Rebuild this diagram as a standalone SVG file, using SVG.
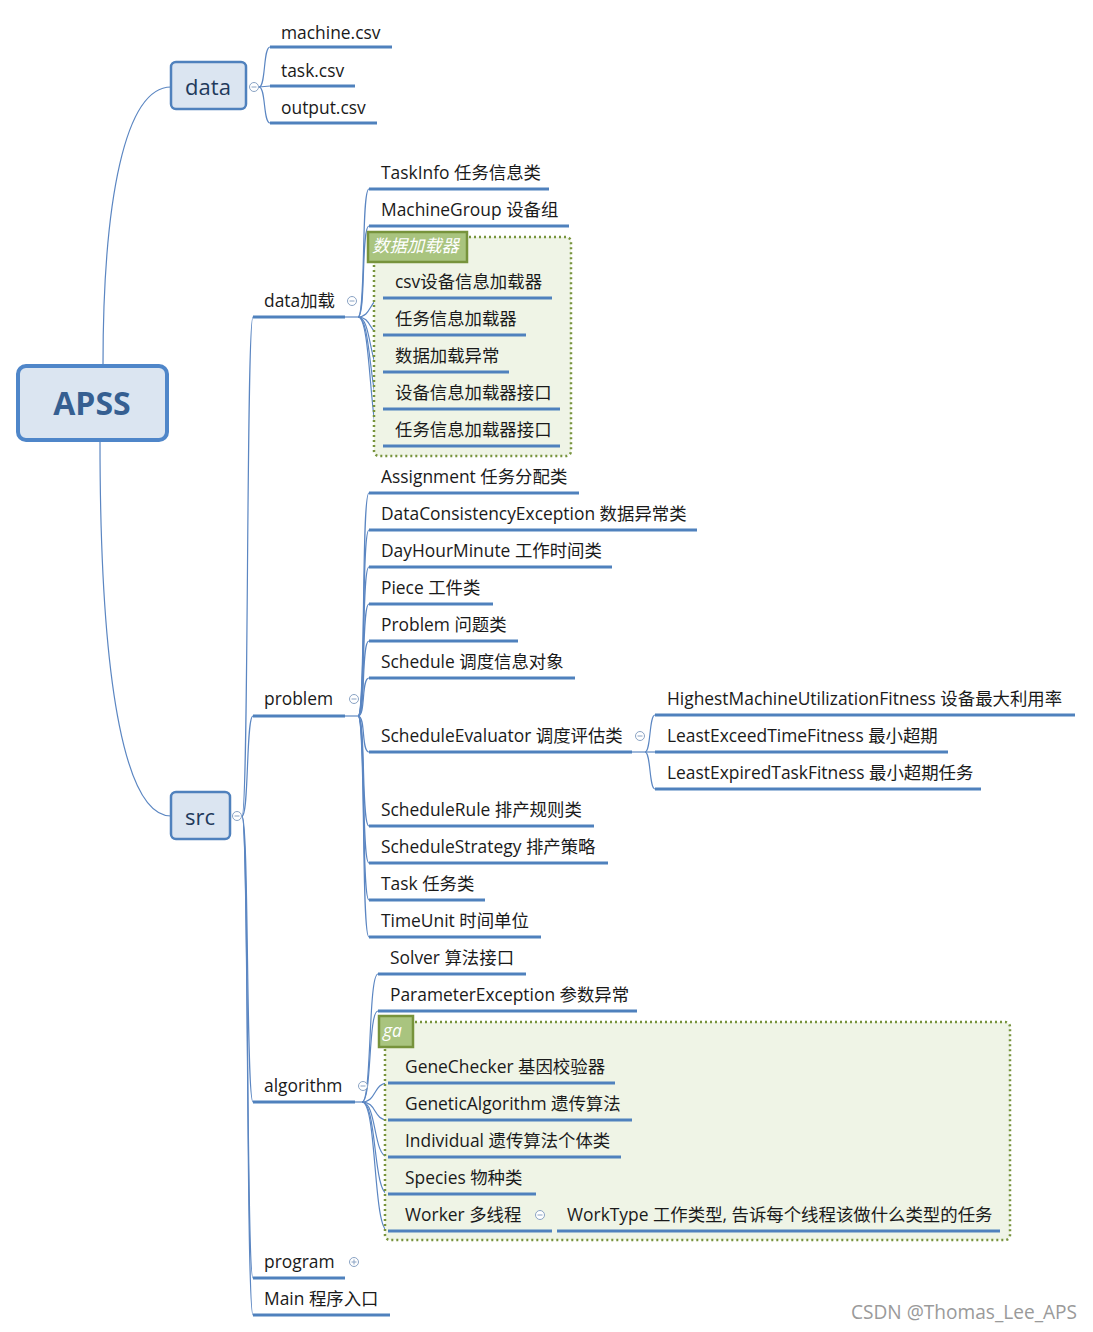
<svg xmlns="http://www.w3.org/2000/svg" width="1093" height="1332" viewBox="0 0 1093 1332">
<style>
text{font-family:"Open Sans","Noto Sans CJK SC",sans-serif;font-size:17.4px;fill:#1a1a1a}
.ul{stroke:#4f81bd;stroke-width:3;fill:none}
.cn{stroke:#5b86c2;stroke-width:1.2;fill:none}
.box{fill:#dbe5f1;stroke:#4f81bd;stroke-width:2.5}
.big{font-size:22px;fill:#1f3a5c;text-anchor:middle}
.tog{fill:#fff;stroke:#8aa3c4;stroke-width:1}
.togl{stroke:#8aa3c4;stroke-width:1}
.grp{fill:#eff4e6;stroke:#77933c;stroke-width:2.5;stroke-dasharray:2 3}
.lab{fill:#a9c47f;stroke:#77933c;stroke-width:2.5}
.labt{fill:#fff;font-style:italic}
</style>
<rect width="1093" height="1332" fill="#fff"/>
<g id="connectors">
<path class="cn" d="M103,365 C103,200 125,87 171,87"/>
<path class="cn" d="M100,441 C100,700 128,816 171,816"/>
<path class="cn" d="M259,87 C266,87 263,47 270,47"/>
<path class="cn" d="M259,87 L270,86"/>
<path class="cn" d="M259,87 C266,87 263,123 270,123"/>
<path class="cn" d="M242,816 C249,816 246,317 253,317"/>
<path class="cn" d="M242,816 C249,816 246,716 253,716"/>
<path class="cn" d="M242,816 C249,816 246,1102 253,1102"/>
<path class="cn" d="M242,816 C249,816 246,1278 253,1278"/>
<path class="cn" d="M242,816 C249,816 246,1315 253,1315"/>
<path class="cn" d="M345,317 L358,317"/>
<path class="cn" d="M358,317 C366,317 361,189 369,189"/>
<path class="cn" d="M358,317 C366,317 361,226 369,226"/>
<path class="cn" d="M358,317 C372,317 369,298 383,298"/>
<path class="cn" d="M358,317 C372,317 369,335 383,335"/>
<path class="cn" d="M358,317 C372,317 369,372 383,372"/>
<path class="cn" d="M358,317 C372,317 369,409 383,409"/>
<path class="cn" d="M358,317 C372,317 369,446 383,446"/>
<path class="cn" d="M345,716 L358,716"/>
<path class="cn" d="M358,716 C366,716 361,493 369,493"/>
<path class="cn" d="M358,716 C366,716 361,530 369,530"/>
<path class="cn" d="M358,716 C366,716 361,567 369,567"/>
<path class="cn" d="M358,716 C366,716 361,604 369,604"/>
<path class="cn" d="M358,716 C366,716 361,641 369,641"/>
<path class="cn" d="M358,716 C366,716 361,678 369,678"/>
<path class="cn" d="M358,716 C366,716 361,752 369,752"/>
<path class="cn" d="M358,716 C366,716 361,826 369,826"/>
<path class="cn" d="M358,716 C366,716 361,863 369,863"/>
<path class="cn" d="M358,716 C366,716 361,900 369,900"/>
<path class="cn" d="M358,716 C366,716 361,937 369,937"/>
<path class="cn" d="M632,752 L655,752"/>
<path class="cn" d="M645,752 C651,752 649,715 655,715"/>
<path class="cn" d="M645,752 C651,752 649,789 655,789"/>
<path class="cn" d="M355,1102 L362,1102"/>
<path class="cn" d="M362,1102 C372,1102 368,974 378,974"/>
<path class="cn" d="M362,1102 C372,1102 368,1011 378,1011"/>
<path class="cn" d="M362,1102 C377,1102 373,1083 388,1083"/>
<path class="cn" d="M362,1102 C377,1102 373,1120 388,1120"/>
<path class="cn" d="M362,1102 C377,1102 373,1157 388,1157"/>
<path class="cn" d="M362,1102 C377,1102 373,1194 388,1194"/>
<path class="cn" d="M362,1102 C377,1102 373,1231 388,1231"/>
<path class="cn" d="M552,1231 L557,1231"/>
</g>
<g id="apss">
<rect x="18" y="366" width="149" height="74" rx="8" fill="#dbe5f1" stroke="#4f86c9" stroke-width="4"/>
<text x="92" y="415" text-anchor="middle" style="font-size:32px;font-weight:bold;fill:#365f91">APSS</text>
</g>
<g id="data">
<rect class="box" x="171" y="62" width="75" height="47" rx="5"/>
<text class="big" x="208" y="95">data</text>
<circle class="tog" cx="254" cy="87" r="4.5"/><line class="togl" x1="251.5" y1="87" x2="256.5" y2="87"/>
</g>
<g id="machine-csv"><text x="281" y="39">machine.csv</text><line class="ul" x1="270" y1="47" x2="392" y2="47"/></g>
<g id="task-csv"><text x="281" y="77">task.csv</text><line class="ul" x1="270" y1="86" x2="355" y2="86"/></g>
<g id="output-csv"><text x="281" y="114">output.csv</text><line class="ul" x1="270" y1="123" x2="377" y2="123"/></g>
<g id="src">
<rect class="box" x="171" y="792" width="59" height="47" rx="5"/>
<text class="big" x="200" y="825">src</text>
<circle class="tog" cx="237" cy="816" r="4.5"/><line class="togl" x1="234.5" y1="816" x2="239.5" y2="816"/>
</g>
<g id="data-load">
<text x="264" y="307">data加载</text><line class="ul" x1="253" y1="317" x2="345" y2="317"/>
<circle class="tog" cx="352" cy="301" r="4.5"/><line class="togl" x1="349.5" y1="301" x2="354.5" y2="301"/>
</g>
<g id="taskinfo"><text x="381" y="179">TaskInfo 任务信息类</text><line class="ul" x1="369" y1="189" x2="549" y2="189"/></g>
<g id="machinegroup"><text x="381" y="216">MachineGroup 设备组</text><line class="ul" x1="369" y1="226" x2="569" y2="226"/></g>
<g id="loader-group">
<rect class="grp" x="374" y="237" width="197" height="219" rx="5"/>
<rect class="lab" x="368" y="232" width="99" height="30"/>
<text class="labt" x="372" y="252">数据加载器</text>
</g>
<g id="csv-loader"><text x="395" y="288">csv设备信息加载器</text><line class="ul" x1="383" y1="298" x2="552" y2="298"/></g>
<g id="task-loader"><text x="395" y="325">任务信息加载器</text><line class="ul" x1="383" y1="335" x2="526" y2="335"/></g>
<g id="load-exception"><text x="395" y="362">数据加载异常</text><line class="ul" x1="383" y1="372" x2="509" y2="372"/></g>
<g id="machine-loader-if"><text x="395" y="399">设备信息加载器接口</text><line class="ul" x1="383" y1="409" x2="560" y2="409"/></g>
<g id="task-loader-if"><text x="395" y="436">任务信息加载器接口</text><line class="ul" x1="383" y1="446" x2="560" y2="446"/></g>
<g id="problem">
<text x="264" y="705">problem</text><line class="ul" x1="253" y1="716" x2="345" y2="716"/>
<circle class="tog" cx="354" cy="699" r="4.5"/><line class="togl" x1="351.5" y1="699" x2="356.5" y2="699"/>
</g>
<g id="assignment"><text x="381" y="483">Assignment 任务分配类</text><line class="ul" x1="369" y1="493" x2="579" y2="493"/></g>
<g id="dce"><text x="381" y="520">DataConsistencyException 数据异常类</text><line class="ul" x1="369" y1="530" x2="697" y2="530"/></g>
<g id="dhm"><text x="381" y="557">DayHourMinute 工作时间类</text><line class="ul" x1="369" y1="567" x2="612" y2="567"/></g>
<g id="piece"><text x="381" y="594">Piece 工件类</text><line class="ul" x1="369" y1="604" x2="493" y2="604"/></g>
<g id="problem-cls"><text x="381" y="631">Problem 问题类</text><line class="ul" x1="369" y1="641" x2="518" y2="641"/></g>
<g id="schedule"><text x="381" y="668">Schedule 调度信息对象</text><line class="ul" x1="369" y1="678" x2="575" y2="678"/></g>
<g id="schedule-evaluator">
<text x="381" y="742">ScheduleEvaluator 调度评估类</text><line class="ul" x1="369" y1="752" x2="632" y2="752"/>
<circle class="tog" cx="640" cy="736" r="4.5"/><line class="togl" x1="637.5" y1="736" x2="642.5" y2="736"/>
</g>
<g id="hmuf"><text x="667" y="705">HighestMachineUtilizationFitness 设备最大利用率</text><line class="ul" x1="655" y1="715" x2="1075" y2="715"/></g>
<g id="letf"><text x="667" y="742">LeastExceedTimeFitness 最小超期</text><line class="ul" x1="655" y1="752" x2="948" y2="752"/></g>
<g id="leptf"><text x="667" y="779">LeastExpiredTaskFitness 最小超期任务</text><line class="ul" x1="655" y1="789" x2="981" y2="789"/></g>
<g id="schedule-rule"><text x="381" y="816">ScheduleRule 排产规则类</text><line class="ul" x1="369" y1="826" x2="594" y2="826"/></g>
<g id="schedule-strategy"><text x="381" y="853">ScheduleStrategy 排产策略</text><line class="ul" x1="369" y1="863" x2="608" y2="863"/></g>
<g id="task"><text x="381" y="890">Task 任务类</text><line class="ul" x1="369" y1="900" x2="485" y2="900"/></g>
<g id="timeunit"><text x="381" y="927">TimeUnit 时间单位</text><line class="ul" x1="369" y1="937" x2="541" y2="937"/></g>
<g id="algorithm">
<text x="264" y="1092">algorithm</text><line class="ul" x1="253" y1="1102" x2="355" y2="1102"/>
<circle class="tog" cx="363" cy="1086" r="4.5"/><line class="togl" x1="360.5" y1="1086" x2="365.5" y2="1086"/>
</g>
<g id="solver"><text x="390" y="964">Solver 算法接口</text><line class="ul" x1="378" y1="974" x2="526" y2="974"/></g>
<g id="param-exception"><text x="390" y="1001">ParameterException 参数异常</text><line class="ul" x1="378" y1="1011" x2="637" y2="1011"/></g>
<g id="ga-group">
<rect class="grp" x="385" y="1022" width="625" height="218" rx="5"/>
<rect class="lab" x="379" y="1016" width="34" height="31"/>
<text class="labt" x="383" y="1037">ga</text>
</g>
<g id="genechecker"><text x="405" y="1073">GeneChecker 基因校验器</text><line class="ul" x1="388" y1="1083" x2="615" y2="1083"/></g>
<g id="geneticalgorithm"><text x="405" y="1110">GeneticAlgorithm 遗传算法</text><line class="ul" x1="388" y1="1120" x2="632" y2="1120"/></g>
<g id="individual"><text x="405" y="1147">Individual 遗传算法个体类</text><line class="ul" x1="388" y1="1157" x2="621" y2="1157"/></g>
<g id="species"><text x="405" y="1184">Species 物种类</text><line class="ul" x1="388" y1="1194" x2="536" y2="1194"/></g>
<g id="worker">
<text x="405" y="1221">Worker 多线程</text><line class="ul" x1="388" y1="1231" x2="552" y2="1231"/>
<circle class="tog" cx="540" cy="1215" r="4.5"/><line class="togl" x1="537.5" y1="1215" x2="542.5" y2="1215"/>
</g>
<g id="worktype"><text x="567" y="1221">WorkType 工作类型, 告诉每个线程该做什么类型的任务</text><line class="ul" x1="557" y1="1231" x2="1000" y2="1231"/></g>
<g id="program">
<text x="264" y="1268">program</text><line class="ul" x1="253" y1="1278" x2="345" y2="1278"/>
<circle class="tog" cx="354" cy="1262" r="4.5"/><line class="togl" x1="351.5" y1="1262" x2="356.5" y2="1262"/><line class="togl" x1="354" y1="1259.5" x2="354" y2="1264.5"/>
</g>
<g id="main"><text x="264" y="1305">Main 程序入口</text><line class="ul" x1="253" y1="1315" x2="390" y2="1315"/></g>
<text x="851" y="1319" style="fill:#9a9a9a;font-size:19.1px">CSDN @Thomas_Lee_APS</text>
</svg>
